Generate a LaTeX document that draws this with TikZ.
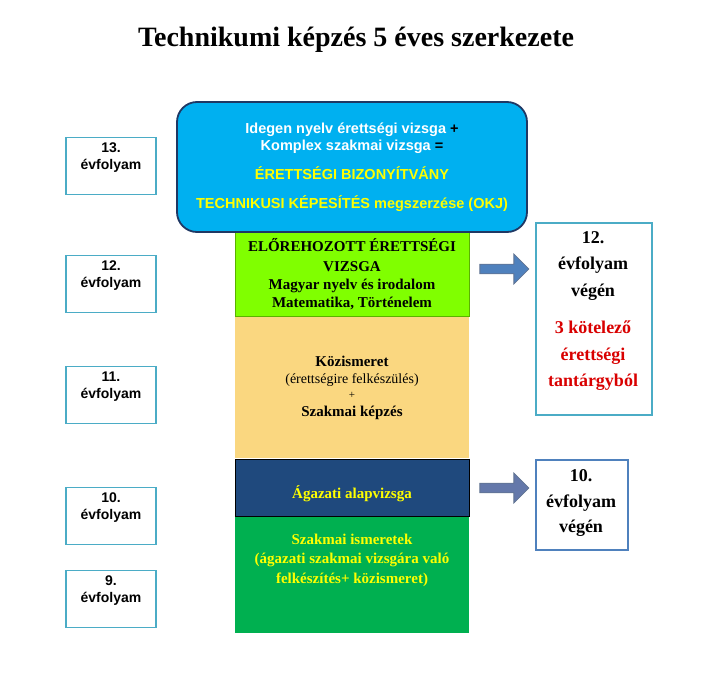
\documentclass[tikz,border=0pt]{standalone}
\usepackage{fontspec}
\setmainfont{Liberation Serif}
\setsansfont{Liberation Sans}
\usetikzlibrary{shapes.arrows}
\definecolor{skyfill}{RGB}{0,176,240}
\definecolor{navyline}{RGB}{31,56,100}
\definecolor{limefill}{RGB}{128,255,0}
\definecolor{tanfill}{RGB}{250,215,128}
\definecolor{darkblue}{RGB}{31,73,125}
\definecolor{grassfill}{RGB}{0,176,80}
\definecolor{tealline}{RGB}{75,172,198}
\definecolor{steelfill}{RGB}{79,129,189}
\definecolor{slatefill}{RGB}{100,120,170}
\definecolor{yellowtext}{RGB}{255,255,0}
\begin{document}
\begin{tikzpicture}
			[x=1pt,y=-1pt,
			yearbox/.style={draw=tealline,line width=1.8pt,fill=white,
				minimum width=90pt,minimum height=57pt},
			yeartext/.style={align=center,font=\sffamily\bfseries\fontsize{14}{17}\selectfont},
			layer/.style={draw=none,minimum width=234pt,anchor=north},
			layertext/.style={align=center,font=\bfseries\fontsize{15}{19.5}\selectfont},
			bigarrow/.style={single arrow,draw=navyline!70,line width=0.8pt,
				minimum width=30pt,minimum height=49pt,single arrow head extend=8pt},
			endbox/.style={draw=tealline,line width=1.8pt,fill=white,anchor=north west},
			endtext/.style={align=center,font=\bfseries\fontsize{18}{26.5}\selectfont}]
			\useasboundingbox (0,0) rectangle (712,672);
			\node[font=\bfseries\fontsize{28}{30}\selectfont,name=title] at (356,40)
				{Technikumi képzés 5 éves szerkezete};
			% layers of the middle column
			\node[layer,fill=grassfill,minimum height=117pt,name=szakmai] at (352,516) {};
			\node[layer,fill=darkblue,minimum height=57pt,draw=black,line width=1pt,name=alap] at (352,459) {};
			\node[layer,fill=tanfill,minimum height=142pt,name=kozism] at (352,316) {};
			\node[layer,fill=limefill,minimum height=84pt,draw=limefill!70!black,line width=0.6pt,name=elore] at (352,232) {};
			\node[layertext,text=yellowtext,name=szakmaiT] at (352,560)
				{Szakmai ismeretek\\(ágazati szakmai vizsgára való\\felkészítés+ közismeret)};
			\node[layertext,text=yellowtext,name=alapT] at (352,494) {Ágazati alapvizsga};
			\node[layertext,name=kozismT] at (352,388)
				{Közismeret\\[-2pt]{\mdseries\fontsize{14}{16}\selectfont(érettségire felkészülés)}\\[-5pt]
				{\mdseries\fontsize{11}{11}\selectfont +}\\[-1pt]Szakmai képzés};
			\node[layertext,name=eloreT] at (352,274)
				{ELŐREHOZOTT ÉRETTSÉGI\\VIZSGA\\[-1pt]Magyar nyelv és irodalom\\[-2pt]Matematika, Történelem};
			\node[draw=navyline,line width=1.8pt,fill=skyfill,rounded corners=20pt,
				minimum width=350pt,minimum height=130pt,name=vizsga] at (352,167) {};
			\node[align=center,font=\sffamily\bfseries\fontsize{14.5}{17}\selectfont,name=vizsgaT] at (352,167)
				{\textcolor{white}{Idegen nyelv érettségi vizsga} +\\
				\textcolor{white}{Komplex szakmai vizsga} =\\[12pt]
				\textcolor{yellowtext}{ÉRETTSÉGI BIZONYÍTVÁNY}\\[12pt]
				\textcolor{yellowtext}{TECHNIKUSI KÉPESÍTÉS megszerzése (OKJ)}};
			% years on the left
			\foreach \y/\t in {166/13,284/12,395/11,516/10,599/9}
			{
				\node[yearbox,name=ev\t] at (111,\y) {};
				\node[yeartext] at (111,\y-8) {\t.\\évfolyam};
			}
			% arrows and exam boxes
			\node[bigarrow,fill=steelfill,name=nyil1] at (502,269) {};
			\node[bigarrow,fill=slatefill,name=nyil2] at (502,488) {};
			\node[endbox,minimum width=116pt,minimum height=192pt,name=erettsegi] at (535,222) {};
			\node[endtext,name=erettsegiT] at (593,266) {12.\\évfolyam\\végén};
			\node[endtext,text=red!85!black,name=kotelezoT] at (593,356) {3 kötelező\\érettségi\\tantárgyból};
			\node[endbox,draw=steelfill,minimum width=92pt,minimum height=90pt,name=agazati] at (535,459) {};
			\node[endtext,font=\bfseries\fontsize{18}{25.5}\selectfont,name=agazatiT] at (581,503)
				{10.\\évfolyam\\végén};
		\end{tikzpicture}
\end{document}
